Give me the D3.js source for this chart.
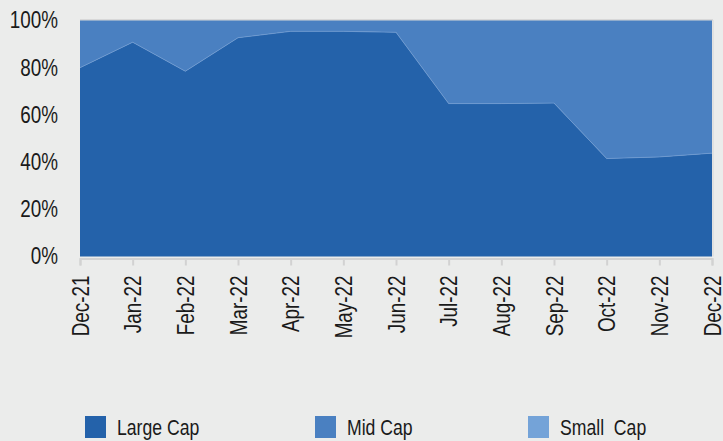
<!DOCTYPE html>
<html>
<head>
<meta charset="utf-8">
<script src="https://cdn.jsdelivr.net/npm/d3@7"></script>
<style>
  body { margin: 0; background: #ebeceb; }
  svg text { font-family: "Liberation Sans", Arial, sans-serif; fill: #1a1a1a; }
</style>
</head>
<body>
<svg id="chart" width="723" height="441"></svg>
<script>
let months = ["Dec-21", "Jan-22", "Feb-22", "Mar-22", "Apr-22", "May-22", "Jun-22",
  "Jul-22", "Aug-22", "Sep-22", "Oct-22", "Nov-22", "Dec-22"];
let largeCap = [80, 90.8, 78.5, 92.7, 95.4, 95.4, 95, 64.8, 64.8, 65, 41.5, 42.2, 43.8];
let midCap = largeCap.map(v => 100 - v); // remainder
let smallCap = [0, 0, 0, 0, 0, 0, 0, 0, 0, 0, 0, 0, 0];
let yTicks = [0, 20, 40, 60, 80, 100];
let seriesNames = ["Large Cap", "Mid Cap", "Small  Cap"];
let colors = ["#2462aa", "#4a80c1", "#74a3d8"];

let xLeft = 80, xRight = 712, yTop = 20.5, yBottom = 256.5;
let narrow = 0.82; // squeeze Liberation Sans to look like a narrow face

let svg = d3.select("#chart");

let rows = months.map((m, i) => ({ m: m, large: largeCap[i], mid: midCap[i], small: smallCap[i] }));

let xScale = d3.scalePoint().domain(months).range([xLeft, xRight]);
let yScale = d3.scaleLinear().domain([0, 100]).range([yBottom, yTop]);

let stack = d3.stack().keys(["large", "mid", "small"]);
let layers = stack(rows);

let area = d3.area()
  .x(d => xScale(d.data.m))
  .y0(d => yScale(d[0]))
  .y1(d => yScale(d[1]));

// plot border top/right
svg.append("line")
  .attr("x1", xLeft).attr("x2", xRight + 1)
  .attr("y1", yTop - 0.5).attr("y2", yTop - 0.5)
  .attr("stroke", "#c4c4c4").attr("stroke-width", 1);
svg.append("line")
  .attr("x1", xRight + 1).attr("x2", xRight + 1)
  .attr("y1", yTop - 0.5).attr("y2", yBottom)
  .attr("stroke", "#d6d6d6").attr("stroke-width", 1);

svg.selectAll("path.layer")
  .data(layers)
  .enter()
  .append("path")
  .attr("class", "layer")
  .attr("d", area)
  .attr("fill", (d, i) => colors[i]);

// thin light edge on top of large cap
let edge = d3.line()
  .x(d => xScale(d.data.m))
  .y(d => yScale(d[1]));
svg.append("path")
  .attr("d", edge(layers[0]))
  .attr("fill", "none")
  .attr("stroke", "#6f9bd2")
  .attr("stroke-width", 0.8);

// x axis
const xAxis = d3.axisBottom(xScale).tickSize(7);
let xg = svg.append("g")
  .attr("transform", "translate(0," + (yBottom + 2) + ")")
  .call(xAxis);
xg.select(".domain").attr("stroke", "#d2d2d2").attr("stroke-width", 2);
xg.selectAll(".tick line").attr("stroke", "#d2d2d2").attr("stroke-width", 2);
xg.selectAll(".tick text")
  .attr("font-size", 23)
  .attr("text-anchor", "end")
  .attr("x", 0)
  .attr("y", 0)
  .attr("dy", "0.36em")
  .attr("transform", "rotate(-90) translate(-17,0) scale(" + narrow + ",1)");

// y axis
const yAxis = d3.axisLeft(yScale).tickValues(yTicks).tickSize(0)
  .tickFormat(d => d + "%");
let yg = svg.append("g")
  .attr("transform", "translate(" + xLeft + ",0)")
  .call(yAxis);
yg.select(".domain").remove();
yg.selectAll(".tick text")
  .attr("font-size", 23)
  .attr("x", 0)
  .attr("transform", "translate(-22,0) scale(" + narrow + ",1)");

// legend
let legendX = [85, 315, 528];
let lg = svg.selectAll("g.legend")
  .data(seriesNames)
  .enter()
  .append("g")
  .attr("class", "legend")
  .attr("transform", (d, i) => "translate(" + legendX[i] + ",416)");
lg.append("rect")
  .attr("width", 21).attr("height", 22)
  .attr("fill", (d, i) => colors[i]);
lg.append("text")
  .attr("transform", "translate(32,19) scale(" + narrow + ",1)")
  .attr("font-size", 21.5)
  .style("white-space", "pre")
  .text(d => d);
</script>
</body>
</html>
